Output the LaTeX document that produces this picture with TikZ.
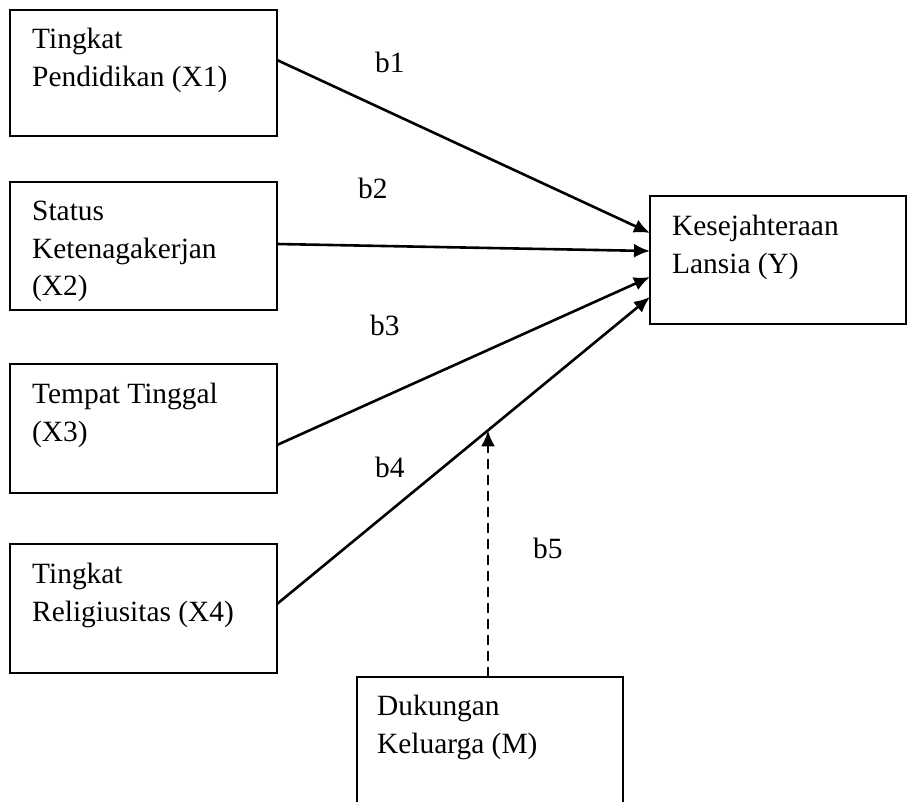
\documentclass[tikz,border=0pt]{standalone}
\usepackage{fontspec}
\setmainfont{Liberation Serif}
\usetikzlibrary{arrows.meta}
\begin{document}
\begin{tikzpicture}[x=1pt,y=-1pt,
  box/.style={draw, line width=2pt, anchor=north west, inner sep=0pt, outer sep=0pt},
  txt/.style={anchor=north west, align=left, inner sep=0pt, font=\fontsize{29.4}{37.5}\selectfont},
  lbl/.style={anchor=base west, inner sep=0pt, font=\fontsize{29.4}{37.5}\selectfont},
  arr/.style={line width=2.6pt, -{Latex[length=16pt,width=14pt]}},
  darr/.style={line width=2.6pt, dash pattern=on 10pt off 6pt, -{Latex[length=16pt,width=14pt]}}]
\clip (0,0) rectangle (907,801);
\fill[white] (0,0) rectangle (907,801);
% boxes
\node[box, minimum width=267pt, minimum height=126pt] (x1) at (10,10) {};
\node[box, minimum width=267pt, minimum height=128pt] (x2) at (10,182) {};
\node[box, minimum width=267pt, minimum height=129pt] (x3) at (10,364) {};
\node[box, minimum width=267pt, minimum height=129pt] (x4) at (10,544) {};
\node[box, minimum width=256pt, minimum height=128pt] (y) at (650,196) {};
\node[box, minimum width=266pt, minimum height=160pt] (m) at (357,677) {};
% texts
\node[txt] (tx1) at ([shift={(22,18)}]x1.north west) {Tingkat\\Pendidikan (X1)};
\node[txt] (tx2) at ([shift={(22,19)}]x2.north west) {Status\\Ketenagakerjan\\(X2)};
\node[txt] (tx3) at ([shift={(22,19)}]x3.north west) {Tempat Tinggal\\(X3)};
\node[txt] (tx4) at ([shift={(22,19)}]x4.north west) {Tingkat\\Religiusitas (X4)};
\node[txt] (ty) at ([shift={(22,19)}]y.north west) {Kesejahteraan\\Lansia (Y)};
\node[txt] (tm) at ([shift={(20,18)}]m.north west) {Dukungan\\Keluarga (M)};
% arrows
\draw[arr] (x1.north east) ++(0,50) -- ([yshift=-37pt]y.north west);
\draw[arr] (x2.north east) ++(0,62) -- ([yshift=-55pt]y.north west);
\draw[arr] (x3.north east) ++(0,81) -- ([yshift=-81pt]y.north west);
\draw[arr] (x4.north east) ++(0,60) -- coordinate[pos=0.5657] (mid) ([yshift=-101pt]y.north west);
\draw[darr] (mid |- m.north) -- (mid);
% labels
\node[lbl] (b1) at (375,72) {b1};
\node[lbl] (b2) at (358,198) {b2};
\node[lbl] (b3) at (370,335) {b3};
\node[lbl] (b4) at (375,477) {b4};
\node[lbl] (b5) at (533,558) {b5};
\end{tikzpicture}
\end{document}
